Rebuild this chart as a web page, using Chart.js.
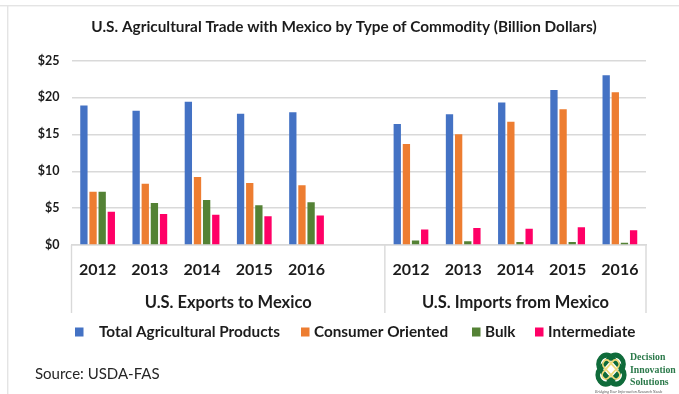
<!DOCTYPE html>
<html>
<head>
<meta charset="utf-8">
<script src="https://cdn.jsdelivr.net/npm/chart.js@4"></script>
<style>
  html, body { margin: 0; padding: 0; background: #fff; overflow: hidden; }
  #wrap { position: relative; width: 679px; height: 394px; }
  canvas { position: absolute; left: 0; top: 0; }
  #logo { position: absolute; left: 592px; top: 348px; }
</style>
</head>
<body>
<div id="wrap">
  <canvas id="chart" width="679" height="394"></canvas>
  <svg id="logo" width="87" height="46" viewBox="0 0 87 46">
    <g fill="none" stroke-linejoin="round" transform="translate(19 22) scale(1.05 1.18) translate(-21 -20)">
      <rect x="7" y="12" width="28" height="15" rx="7" transform="rotate(45 21 20)" stroke="#0f6b3a" stroke-width="4.4"/>
      <rect x="7" y="12" width="28" height="15" rx="7" transform="rotate(-45 21 20)" stroke="#0f6b3a" stroke-width="4.4"/>
      <rect x="11" y="16" width="20" height="7" rx="3.5" transform="rotate(45 21 20)" stroke="#f0d97a" stroke-width="1.6"/>
      <rect x="11" y="16" width="20" height="7" rx="3.5" transform="rotate(-45 21 20)" stroke="#f0d97a" stroke-width="1.6"/>
    </g>
    <g font-family="'Liberation Serif', serif" font-weight="700" font-size="9.8" fill="#2c7a4b">
      <text x="38" y="12">Decision</text>
      <text x="38" y="24.5">Innovation</text>
      <text x="38" y="37">Solutions</text>
    </g>
    <text x="3" y="45" font-family="'Liberation Serif', serif" font-style="italic" font-size="3.9" fill="#555">Bridging Your Information Research Needs</text>
  </svg>
</div>
<script>
const categories = ['2012','2013','2014','2015','2016','','2012','2013','2014','2015','2016'];
const seriesNames = ['Total Agricultural Products','Consumer Oriented','Bulk','Intermediate'];
const totalAgricultural = [18.9,18.2,19.4,17.8,18.0,null,16.4,17.7,19.3,21.0,23.0];
const consumerOriented = [7.2,8.3,9.2,8.4,8.1,null,13.7,15.0,16.7,18.4,20.7];
const bulk = [7.2,5.7,6.1,5.4,5.8,null,0.6,0.5,0.4,0.4,0.3];
const intermediate = [4.5,4.2,4.1,3.9,4.0,null,2.1,2.3,2.2,2.4,2.0];
const seriesColors = ['#4472c4','#ed7d31','#548235','#ff0066'];
const groupNames = ['U.S. Exports to Mexico','U.S. Imports from Mexico'];
const titleText = 'U.S. Agricultural Trade with Mexico by Type of Commodity (Billion Dollars)';
const sourceText = 'Source: USDA-FAS';

const FONT = 'Lato, Carlito, sans-serif';
const INK = '#1c1c1c';
const RULE = '#d9d9d9';

// Page frame, title, source line, two-level axis brackets and the legend row.
const furniture = {
  id: 'furniture',
  beforeDraw(chart) {
    const c = chart.ctx;
    c.save();
    c.fillStyle = '#e4e4e4';
    c.fillRect(0, 5, 679, 1.4);
    c.fillRect(7, 5, 1.4, 389);
    c.restore();
  },
  afterDraw(chart) {
    const c = chart.ctx, x = chart.scales.x, area = chart.chartArea;
    c.save();
    c.fillStyle = INK;
    c.textBaseline = 'middle';
    c.textAlign = 'center';
    c.font = '700 15.35px ' + FONT;
    c.fillText(titleText, 344, 27.5);

    // Group separators run down from the baseline between the year groups.
    const step = x.getPixelForValue(1) - x.getPixelForValue(0);
    const edges = [x.getPixelForValue(0) - step / 2, x.getPixelForValue(6) - step / 2, x.getPixelForValue(10) + step / 2];
    c.strokeStyle = RULE;
    c.lineWidth = 1.4;
    edges.forEach(px => {
      c.beginPath();
      c.moveTo(px, area.bottom);
      c.lineTo(px, 313);
      c.stroke();
    });

    c.fillStyle = INK;
    c.font = '700 16.5px ' + FONT;
    c.fillText(groupNames[0], (edges[0] + edges[1]) / 2, 302.5);
    c.fillText(groupNames[1], (edges[1] + edges[2]) / 2, 302.5);

    // Legend row
    const swatches = [75, 301, 472, 535];
    const labelsAt = [99, 314, 485, 548];
    c.textAlign = 'left';
    c.font = '700 15.3px ' + FONT;
    seriesNames.forEach((name, i) => {
      c.fillStyle = seriesColors[i];
      c.fillRect(swatches[i], 327.5, 8.5, 9);
      c.fillStyle = INK;
      c.fillText(name, labelsAt[i], 332);
    });

    c.fillStyle = '#262626';
    c.font = '400 15px ' + FONT;
    c.fillText(sourceText, 35, 374);
    c.restore();
  }
};

new Chart(document.getElementById('chart'), {
  type: 'bar',
  data: {
    labels: categories,
    datasets: [totalAgricultural, consumerOriented, bulk, intermediate].map((values, i) => ({
      label: seriesNames[i],
      data: values,
      backgroundColor: seriesColors[i],
      categoryPercentage: 0.7,
      barPercentage: 0.8
    }))
  },
  options: {
    responsive: false,
    animation: false,
    devicePixelRatio: 1,
    layout: { padding: { left: 0, top: 60.5, right: 33, bottom: 0 } },
    plugins: { legend: { display: false }, title: { display: false }, tooltip: { enabled: false } },
    scales: {
      x: {
        afterFit(scale) { scale.height = 149; },
        grid: { display: false },
        border: { color: RULE, width: 1.4 },
        ticks: {
          color: INK, padding: 7, maxRotation: 0, autoSkip: false,
          font: { family: FONT, size: 16, weight: '700' }
        }
      },
      y: {
        min: 0, max: 25,
        afterFit(scale) { scale.width = 71.5; },
        border: { display: false },
        grid: { color: RULE, lineWidth: 1.4, drawTicks: false },
        ticks: {
          stepSize: 5, color: INK, padding: 12,
          callback: v => '$' + v,
          font: { family: FONT, size: 12.5, weight: '700' }
        }
      }
    }
  },
  plugins: [furniture]
});
</script>
</body>
</html>
